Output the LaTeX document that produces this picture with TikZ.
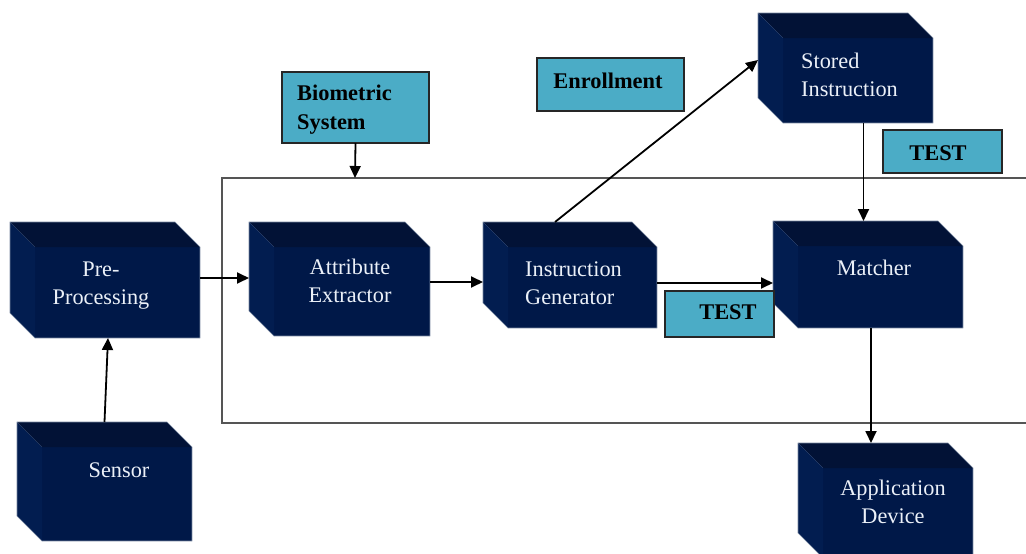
\documentclass[tikz,border=0pt]{standalone}
\usepackage{fontspec}
\setmainfont{Liberation Serif}
\usetikzlibrary{arrows.meta,calc}
\definecolor{frontc}{RGB}{0,24,72}
\definecolor{topc}{RGB}{2,18,54}
\definecolor{sidec}{RGB}{2,29,80}
\definecolor{edgec}{RGB}{120,135,160}
\definecolor{txtc}{RGB}{235,240,248}
\definecolor{cyanc}{RGB}{75,172,198}
\definecolor{framec}{RGB}{85,85,85}
\tikzset{
  boxshape/.style={inner sep=0pt, outer sep=0pt, draw=none},
  boxtext/.style={text=txtc, font=\fontsize{22.3}{28}\selectfont, inner sep=0pt},
  labelbox/.style={draw=black!85, line width=1.4pt, fill=cyanc, inner sep=0pt, outer sep=0pt},
  labeltext/.style={text=black, font=\bfseries\fontsize{22.4}{29}\selectfont, inner sep=0pt},
  flow/.style={draw=black, line width=1.8pt, -{Triangle[length=12pt,width=11pt]}},
  frameline/.style={draw=framec, line width=1.6pt}
}
\newcommand\dd{25pt}
\newcommand\dbox[5]{%
  \pgfmathsetmacro\bw{#4-#2}\pgfmathsetmacro\bh{#5-#3}%
  \node[boxshape, minimum width=\bw pt, minimum height=\bh pt] (#1) at ({(#2+#4)/2},{(#3+#5)/2}) {};
  \fill[frontc] ([xshift=\dd,yshift=-\dd]#1.north west) rectangle (#1.south east);
  \fill[topc] (#1.north west) -- ([xshift=-\dd]#1.north east) -- ([yshift=-\dd]#1.north east) -- ([xshift=\dd,yshift=-\dd]#1.north west) -- cycle;
  \fill[sidec] (#1.north west) -- ([xshift=\dd,yshift=-\dd]#1.north west) -- ([xshift=\dd]#1.south west) -- ([yshift=\dd]#1.south west) -- cycle;
  \draw[edgec, line width=0.6pt, line join=round] (#1.north west) -- ([xshift=-\dd]#1.north east) -- ([yshift=-\dd]#1.north east) -- (#1.south east) -- ([xshift=\dd]#1.south west) -- ([yshift=\dd]#1.south west) -- cycle;
}
\begin{document}
\begin{tikzpicture}[x=1pt,y=-1pt]
\useasboundingbox[fill=white] (0,0) rectangle (1026,554);

% big frame (extends beyond right edge)
\draw[frameline] (1032,178) -- (222,178) -- (222,423) -- (1032,423);
\coordinate (frametop) at (355,178);

% 3D boxes
\dbox{pre}{10}{222}{200}{338}
\dbox{sensor}{17}{422}{192}{541}
\dbox{attr}{249}{222}{430}{336}
\dbox{gen}{483}{222}{657}{328}
\dbox{match}{773}{221}{963}{328}
\dbox{stored}{758}{13}{933}{123}
\dbox{app}{798}{443}{973}{558}

% box texts (base anchor = baseline of the last line)
\node[boxtext, align=center, anchor=base] (pretxt) at (101,304) {Pre-\\Processing};
\node[boxtext, anchor=base] (sensortxt) at (119,477) {Sensor};
\node[boxtext, align=center, anchor=base] (attrtxt) at (350,302) {Attribute\\Extractor};
\node[boxtext, align=left, anchor=base west] (gentxt) at (525,304) {Instruction\\Generator};
\node[boxtext, anchor=base] (matchtxt) at (874,275) {Matcher};
\node[boxtext, align=left, anchor=base west] (storedtxt) at (801,96) {Stored\\Instruction};
\node[boxtext, align=center, anchor=base] (apptxt) at (893,523) {Application\\Device};

% cyan label boxes
\node[labelbox, minimum width=147pt, minimum height=71pt] (bio) at (355.5,107.5) {};
\node[labeltext, align=left, anchor=base west] (biotxt) at (297,129) {Biometric\\System};
\node[labelbox, minimum width=147pt, minimum height=53pt] (enr) at (610.5,84.5) {};
\node[labeltext, anchor=base] (enrtxt) at (608,88) {Enrollment};
\node[labelbox, minimum width=119pt, minimum height=43pt] (test1) at (942.5,151.5) {};
\node[labeltext, anchor=base] (test1txt) at (938,160) {TEST};
\node[labelbox, minimum width=109pt, minimum height=46pt] (test2) at (719.5,314) {};
\node[labeltext, anchor=base] (test2txt) at (728,319) {TEST};

% connectors
\draw[flow] (bio.south) -- (frametop);
\draw[flow] ([yshift=2pt]pre.east) -- ([yshift=2pt]pre.east -| attr.west);
\draw[flow] (sensor.north) -- ([xshift=3pt]pre.south);
\draw[flow] ([yshift=-3pt]attr.east) -- ([yshift=-3pt]attr.east -| gen.west);
\draw[flow] ([yshift=-8pt]gen.east) -- ([yshift=-8pt]gen.east -| match.west);
\draw[flow] ([xshift=-15pt]gen.north) -- ([yshift=8pt]stored.west);
\draw[flow] ([xshift=18pt]stored.south) -- ([xshift=18pt]stored.south |- match.north);
\draw[flow] ([xshift=3pt]match.south) -- ([xshift=3pt]match.south |- app.north);
\end{tikzpicture}
\end{document}
